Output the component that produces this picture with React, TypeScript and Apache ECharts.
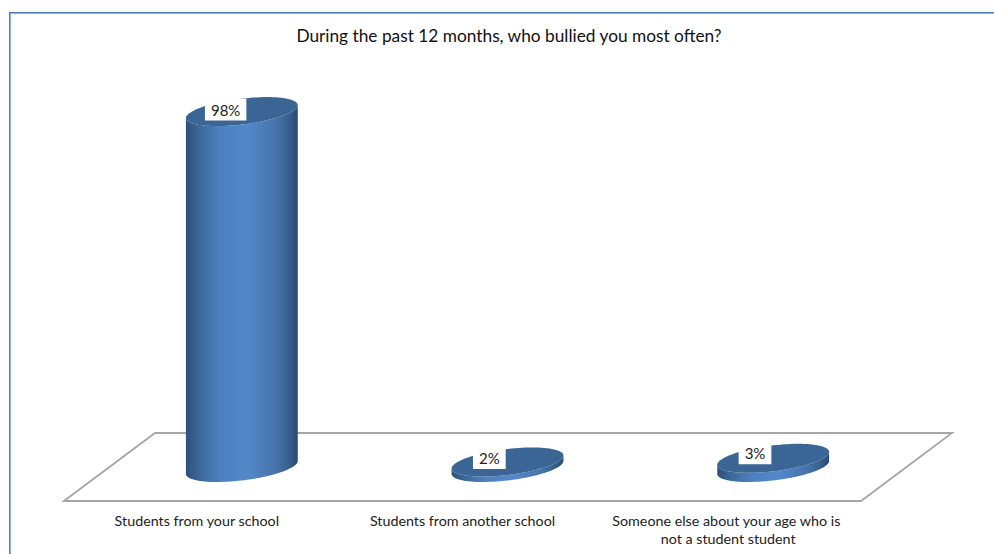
import React, { useEffect, useRef } from "react";
import * as echarts from "echarts";

const TITLE = "During the past 12 months, who bullied you most often?";
const categories = [
  "Students from your school",
  "Students from another school",
  "Someone else about your age who is not a student student",
];
const values = [98, 2, 3];
const labelLift = [-2, -4, -5];
const labelShift = [2, 0, 0];

const FONT = "Lato, Carlito, sans-serif";
const BAR_RATIO = 0.421;
const BASE_VALUE = 0.5;

function ellipse(cx: number, cy: number, a: number, from: number, to: number, n = 48) {
  const pts: number[][] = [];
  for (let i = 0; i <= n; i++) {
    const t = from + ((to - from) * i) / n;
    const x = cx + a * Math.cos(t);
    const y = cy - (6.5 / 56) * a * Math.cos(t) + (13 / 56) * a * Math.sin(t);
    pts.push([x, y]);
  }
  return pts;
}

const sideFill = new echarts.graphic.LinearGradient(0, 0, 1, 0, [
  { offset: 0, color: "#2d5079" },
  { offset: 0.12, color: "#3c6898" },
  { offset: 0.3, color: "#4d80bf" },
  { offset: 0.55, color: "#5488c9" },
  { offset: 0.8, color: "#4674ac" },
  { offset: 0.93, color: "#365e8c" },
  { offset: 1, color: "#2a486c" },
]);

function renderCylinder(params: any, api: any) {
  const i = api.value(0);
  const v = api.value(1);
  const top = api.coord([i, v]);
  const base = api.coord([i, BASE_VALUE]);
  const a = (api.size([1, 0])[0] * BAR_RATIO) / 2;
  const cx = top[0];
  const body = [
    ...ellipse(cx, base[1], a, 0, Math.PI),
    ...ellipse(cx, top[1], a, Math.PI, 0),
  ];
  return {
    type: "group",
    children: [
      { type: "polygon", shape: { points: body }, style: { fill: sideFill } },
      {
        type: "polygon",
        shape: { points: ellipse(cx, top[1], a, 0, Math.PI * 2, 96) },
        style: { fill: "#3b6595" },
      },
      {
        type: "text",
        x: cx - a * 0.325 + labelShift[i],
        y: top[1] + labelLift[i],
        style: {
          text: v + "%",
          font: "15px " + FONT,
          fill: "#222222",
          align: "center",
          verticalAlign: "middle",
          backgroundColor: "#ffffff",
          padding: [2, 6, 5, 6],
        },
      },
    ],
  };
}

const option: any = {
  animation: false,
  backgroundColor: "#ffffff",
  title: {
    text: TITLE,
    left: 504,
    top: 22,
    textAlign: "center",
    textStyle: { fontFamily: FONT, fontSize: 17.3, fontWeight: "normal", color: "#111111" },
  },
  graphic: [
    { type: "rect", shape: { x: 9, y: 12, width: 985, height: 1 }, style: { fill: "#4a7ebb" } },
    { type: "rect", shape: { x: 9, y: 13, width: 985, height: 1 }, style: { fill: "#8fb0da" } },
    { type: "rect", shape: { x: 9, y: 12, width: 1, height: 542 }, style: { fill: "#4a7ebb" } },
    { type: "rect", shape: { x: 10, y: 13, width: 1, height: 541 }, style: { fill: "#8fb0da" } },
    {
      type: "polygon",
      z: -1,
      shape: { points: [[64, 501], [155, 433], [952, 433], [861, 501]] },
      style: { fill: "#ffffff", stroke: "#a6a6a6", lineWidth: 1.8 },
    },
  ],
  grid: [
    { left: 64, width: 797, top: 433, height: 68 },
    { left: 109, width: 797, top: 104.3, height: 365 },
  ],
  xAxis: [
    {
      type: "category",
      gridIndex: 0,
      data: categories,
      axisLine: { show: false },
      axisTick: { show: false },
      axisLabel: {
        show: true,
        interval: 0,
        margin: 10,
        width: 240,
        overflow: "break",
        lineHeight: 18,
        fontFamily: FONT,
        fontSize: 14.3,
        color: "#222222",
      },
    },
    {
      type: "category",
      gridIndex: 1,
      data: categories,
      axisLine: { show: false },
      axisTick: { show: false },
      axisLabel: { show: false },
    },
  ],
  yAxis: [
    { type: "value", gridIndex: 0, show: false, min: 0, max: 100, splitLine: { show: false } },
    { type: "value", gridIndex: 1, show: false, min: 0, max: 100, splitLine: { show: false } },
  ],
  series: [
    {
      type: "custom",
      xAxisIndex: 1,
      yAxisIndex: 1,
      clip: false,
      renderItem: renderCylinder,
      encode: { x: 0, y: 1 },
      data: values.map((v, i) => [i, v]),
    },
  ],
};

export default function App() {
  const ref = useRef<HTMLDivElement>(null);
  useEffect(() => {
    document.body.style.margin = "0";
    const chart = echarts.init(ref.current!, null, { renderer: "svg" });
    chart.setOption(option);
    return () => chart.dispose();
  }, []);
  return <div ref={ref} style={{ width: 994, height: 554 }} />;
}
